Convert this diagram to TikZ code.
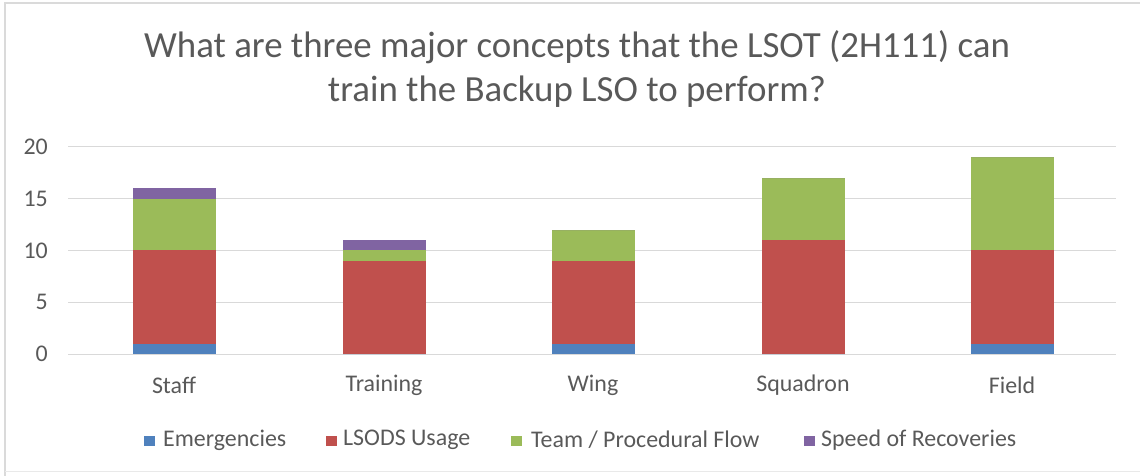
\documentclass[tikz,border=0pt]{standalone}
\usepackage{fontspec}
\setmainfont{Carlito}
\definecolor{txt}{HTML}{595959}
\definecolor{grid}{HTML}{D9D9D9}
\definecolor{frame}{HTML}{DADADA}
\definecolor{emerg}{HTML}{4F81BD}
\definecolor{lsods}{HTML}{C0504D}
\definecolor{team}{HTML}{9BBB59}
\definecolor{speed}{HTML}{8064A2}
\begin{document}
\begin{tikzpicture}[x=1bp,y=-1bp,
  gridline/.style={draw=grid,line width=1.2bp},
  ticklabel/.style={text=txt,font=\fontsize{24}{24}\selectfont,anchor=east,inner sep=0},
  catlabel/.style={text=txt,font=\fontsize{24}{24}\selectfont,anchor=center,inner sep=0},
  legtext/.style={text=txt,font=\fontsize{24}{24}\selectfont,anchor=west,inner sep=0},
  legbox/.style={minimum size=10.5bp,inner sep=0,anchor=west}]
\useasboundingbox (0,0) rectangle (1140,476);
% outer frame
\draw[frame,line width=2bp] (5,476) -- (5,3) -- (1140,3);
\draw[frame!60,line width=1bp] (5,472) -- (1140,472);
% title
\node[text=txt,font=\fontsize{37}{45}\selectfont,align=center] (title) at (577,69)
  {What are three major concepts that the LSOT (2H111) can\\train the Backup LSO to perform?};
% horizontal grid and value axis labels (0 at y=354.3, 10.38 px per unit)
\foreach \v in {0,5,...,20} {
  \draw[gridline] (68,{354.3-10.38*\v}) -- (1116,{354.3-10.38*\v});
  \node[ticklabel] (tick\v) at (48,{354.3-10.38*\v}) {\v};
}
% stacked columns: name/centre/emergencies/LSODS/team/speed
\foreach \n/\c/\a/\b/\t/\s in {Staff/174/1/9/5/1, Training/384/0/9/1/1, Wing/593/1/8/3/0, Squadron/803/0/11/6/0, Field/1012/1/9/9/0} {
  \pgfmathsetmacro{\ya}{354.3}
  \pgfmathsetmacro{\yb}{354.3-10.38*\a}
  \pgfmathsetmacro{\yc}{354.3-10.38*(\a+\b)}
  \pgfmathsetmacro{\yd}{354.3-10.38*(\a+\b+\t)}
  \pgfmathsetmacro{\ye}{354.3-10.38*(\a+\b+\t+\s)}
  \fill[emerg] (\c-41.5,\ya) rectangle (\c+41.5,\yb);
  \fill[lsods] (\c-41.5,\yb) rectangle (\c+41.5,\yc);
  \fill[team]  (\c-41.5,\yc) rectangle (\c+41.5,\yd);
  \fill[speed] (\c-41.5,\yd) rectangle (\c+41.5,\ye);
  \node[catlabel] (cat\n) at (\c,385) {\n};
}
% legend
\node[legbox,fill=emerg] (kEm) at (144,441) {};
\node[legtext] (lEm) at (163,440) {Emergencies};
\node[legbox,fill=lsods] (kLs) at (326,441) {};
\node[legtext] (lLs) at (343,440) {LSODS Usage};
\node[legbox,fill=team] (kTe) at (511,441) {};
\node[legtext] (lTe) at (531,440) {Team / Procedural Flow};
\node[legbox,fill=speed] (kSp) at (804,441) {};
\node[legtext] (lSp) at (821,440) {Speed of Recoveries};
\end{tikzpicture}
\end{document}
